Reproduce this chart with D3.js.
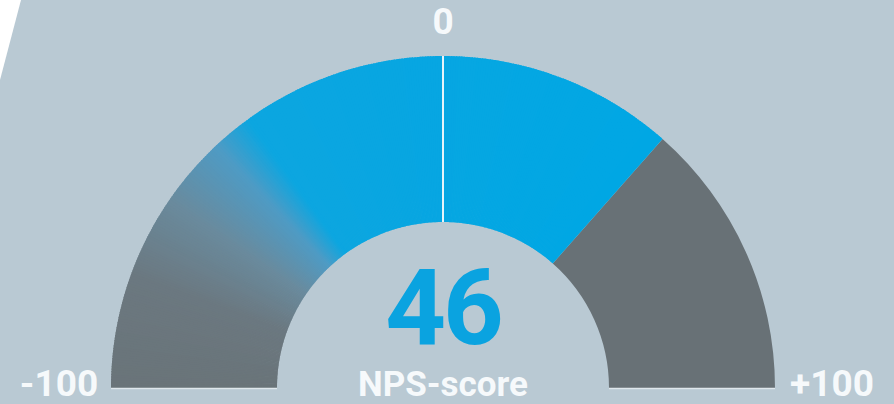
<!DOCTYPE html>
<html><head><meta charset="utf-8">
<script src="https://cdn.jsdelivr.net/npm/d3@7"></script>
<style>html,body{margin:0;padding:0;background:#b9c9d3;overflow:hidden}</style>
</head><body>
<svg id="c" width="894" height="404"></svg>
<script>
// data
const scaleMin = -100;
const scaleMax = 100;
const npsValue = 46;
const zeroTick = 0;
const tickLabels = ["-100", "0", "+100"];
const valueLabel = "NPS-score";

// gradient colour stops along the filled arc (value -> colour)
const gradStops = [-100, -78, -62, -48, -40, 46];
const gradColors = ["#6a7479", "#6b7880", "#6a8a9c", "#4f9bc4", "#0ca6e0", "#00a7e4"];

const W = 894, H = 404, cx = 443, cy = 388, rOut = 332, rIn = 166;
const svg = d3.select("#c");
svg.append("rect").attr("width", W).attr("height", H).attr("fill", "#b9c9d3");
svg.append("path").attr("d", "M0,0L21,0L0,80Z").attr("fill", "#ffffff");

const ang = d3.scaleLinear().domain([scaleMin, scaleMax]).range([-Math.PI / 2, Math.PI / 2]);
const col = d3.scaleLinear().domain(gradStops).range(gradColors).interpolate(d3.interpolateRgb);
const arc = d3.arc().innerRadius(rIn).outerRadius(rOut);
const g = svg.append("g").attr("transform", `translate(${cx},${cy})`);

// remaining (grey) part
g.append("path").attr("d", arc({startAngle: ang(npsValue), endAngle: ang(scaleMax)})).attr("fill", "#687176");

// filled part, rendered as fine slices for conic gradient
const step = 0.5;
const slices = d3.range(scaleMin, npsValue, step);
g.selectAll("path.s").data(slices).join("path").attr("class", "s")
  .attr("d", v => arc({startAngle: ang(v), endAngle: ang(Math.min(v + step, npsValue)) + (v + step < npsValue ? 0.004 : 0)}))
  .attr("fill", v => col(v + step / 2));

// zero tick line
const a0 = ang(zeroTick);
g.append("line")
  .attr("x1", Math.sin(a0) * rIn).attr("y1", -Math.cos(a0) * rIn)
  .attr("x2", Math.sin(a0) * rOut).attr("y2", -Math.cos(a0) * rOut)
  .attr("stroke", "#e6f3f9").attr("stroke-width", 2);

// baseline light line
g.append("line").attr("x1", -rOut).attr("x2", -rIn).attr("y1", 0.5).attr("y2", 0.5).attr("stroke", "#dfe7ec").attr("stroke-width", 1.5);
g.append("line").attr("x1", rIn).attr("x2", rOut).attr("y1", 0.5).attr("y2", 0.5).attr("stroke", "#dfe7ec").attr("stroke-width", 1.5);

const font = "Roboto, 'DejaVu Sans', sans-serif";
svg.append("text").attr("x", cx).attr("y", 344).attr("text-anchor", "middle")
  .attr("font-family", font).attr("font-weight", 700).attr("font-size", 106)
  .attr("letter-spacing", -3).attr("fill", "#0aa3e0").text(npsValue);
svg.append("text").attr("x", cx).attr("y", 396).attr("text-anchor", "middle")
  .attr("font-family", font).attr("font-weight", 700).attr("font-size", 35)
  .attr("fill", "#f6f9fb").text(valueLabel);

svg.append("text").attr("x", cx).attr("y", 34).attr("text-anchor", "middle")
  .attr("font-family", font).attr("font-weight", 700).attr("font-size", 37)
  .attr("fill", "#f6f9fb").text(tickLabels[1]);
svg.append("text").attr("x", 59).attr("y", 396).attr("text-anchor", "middle")
  .attr("font-family", font).attr("font-weight", 700).attr("font-size", 37)
  .attr("fill", "#f6f9fb").text(tickLabels[0]);
svg.append("text").attr("x", 832).attr("y", 396).attr("text-anchor", "middle")
  .attr("font-family", font).attr("font-weight", 700).attr("font-size", 37)
  .attr("fill", "#f6f9fb").text(tickLabels[2]);
</script>
</body></html>
